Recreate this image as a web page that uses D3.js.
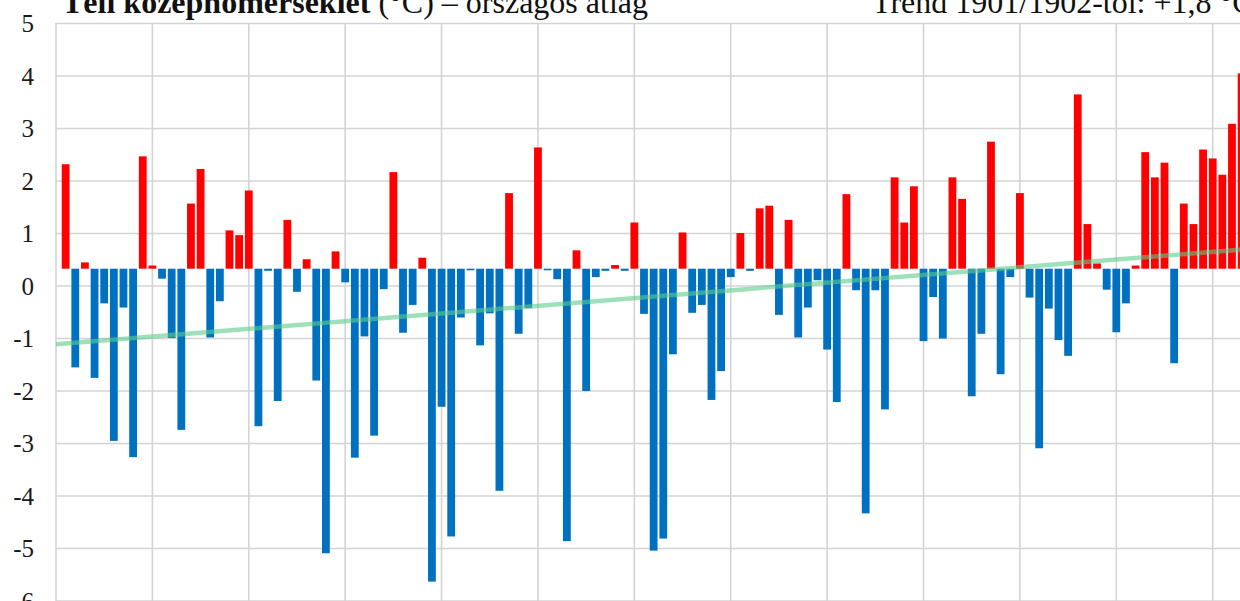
<!DOCTYPE html>
<html>
<head>
<meta charset="utf-8">
<script src="https://cdn.jsdelivr.net/npm/d3@7"></script>
<style>
html,body{margin:0;padding:0;background:#fff;overflow:hidden;}
svg{display:block;}
.ylab{font-family:'Liberation Serif','Times New Roman',serif !important;font-size:25px !important;}
</style>
</head>
<body>
<svg id="chart" width="1240" height="601"></svg>
<script>
// ---- data ----
const firstSeasonYear = 1901;           // 1901/1902
const baseline = 0.32;                  // bars grow from this value
const values = [
  2.31, -1.56, 0.44, -1.76, -0.34, -2.96, -0.42, -3.27, 2.46, 0.38,
  0.13, -1.00, -2.75, 1.56, 2.22, -0.99, -0.30, 1.05, 0.96, 1.81,
  -2.68, 0.28, -2.20, 1.25, -0.12, 0.50, -1.81, -5.10, 0.65, 0.06,
  -3.28, -0.97, -2.86, -0.07, 2.16, -0.90, -0.37, 0.53, -5.64, -2.31,
  -4.78, -0.61, 0.29, -1.14, -0.53, -3.91, 1.76, -0.92, -0.43, 2.63,
  0.29, 0.12, -4.87, 0.67, -2.01, 0.16, 0.28, 0.39, 0.28, 1.20,
  -0.54, -5.05, -4.82, -1.31, 1.01, -0.52, -0.37, -2.18, -1.63, 0.16,
  1.00, 0.28, 1.47, 1.52, -0.56, 1.25, -0.99, -0.42, 0.10, -1.22,
  -2.22, 1.74, -0.09, -4.34, -0.09, -2.36, 2.06, 1.20, 1.89, -1.06,
  -0.22, -1.01, 2.06, 1.65, -2.11, -0.92, 2.74, -1.69, 0.16, 1.76,
  -0.23, -3.10, -0.44, -1.04, -1.34, 3.64, 1.17, 0.42, -0.08, -0.89,
  -0.34, 0.38, 2.54, 2.06, 2.34, -1.48, 1.56, 1.17, 2.59, 2.42,
  2.11, 3.08, 4.04
];
const seasons = values.map((_, i) => (firstSeasonYear + i) + "/" + (firstSeasonYear + i + 1));
const yTicks = [5, 4, 3, 2, 1, 0, -1, -2, -3, -4, -5, -6];
const decadeGridSeasons = ["1910/1911","1920/1921","1930/1931","1940/1941","1950/1951","1960/1961","1970/1971","1980/1981","1990/1991","2000/2001","2010/2011","2020/2021"];
const trendSeasons = [-1, 123];        // index positions (1900/1901 .. right edge)
const trendValues = [-1.12, 0.70];
const titleBold = "Téli középhőmérséklet";
const titleRest = " (°C) – országos átlag";
const trendLabel = "Trend 1901/1902-tól: +1,8 °C";

// ---- layout ----
const svg = d3.select("#chart");
const plotLeft = 56, plotTop = 23;
const x = d3.scaleLinear().domain([-1, 119]).range([plotLeft, 1212.7]);
const y = d3.scaleLinear().domain([5, -6]).range([plotTop, plotTop + 11 * 52.5]);
const plotRight = x(123);
const bw = 7.8;
const serif = "'Liberation Serif','Times New Roman',serif";

const g = svg.append("g");

// horizontal gridlines + labels
const yAxis = d3.axisLeft(y).tickValues(yTicks).tickSize(-(plotRight - plotLeft)).tickFormat(d => String(d));
const ya = g.append("g").attr("transform", `translate(${plotLeft},0)`).call(yAxis)
  .attr("font-family", serif).attr("font-size", 25);
ya.select(".domain").remove();
ya.selectAll(".tick line").attr("stroke", "#d4d4d4").attr("stroke-width", 1.6);
ya.selectAll(".tick text")
  .attr("class", "ylab")
  .attr("x", -22)
  .attr("dy", "0.34em")
  .attr("fill", "#1a1a1a");

// vertical gridlines (decades)
const gridIdx = decadeGridSeasons.map(s => seasons.indexOf(s));
g.append("g").selectAll("line").data(gridIdx).join("line")
  .attr("x1", d => x(d)).attr("x2", d => x(d))
  .attr("y1", y(5)).attr("y2", 601)
  .attr("stroke", "#d4d4d4").attr("stroke-width", 1.6);
// left border
g.append("line").attr("x1", plotLeft).attr("x2", plotLeft).attr("y1", y(5)).attr("y2", 601)
  .attr("stroke", "#d4d4d4").attr("stroke-width", 1.6);

// bars
g.append("g").selectAll("rect").data(values).join("rect")
  .attr("x", (d, i) => x(i) - bw / 2)
  .attr("width", bw)
  .attr("y", d => y(Math.max(d, baseline)))
  .attr("height", d => Math.max(1.2, Math.abs(y(d) - y(baseline))))
  .attr("fill", d => d > baseline ? "#ff0000" : "#0070c0");

// trend line
const line = d3.line().x(d => x(d[0])).y(d => y(d[1]));
g.append("path")
  .datum(trendSeasons.map((s, i) => [s, trendValues[i]]))
  .attr("d", line)
  .attr("fill", "none")
  .attr("stroke", "#5ccc8c")
  .attr("stroke-opacity", 0.6)
  .attr("stroke-width", 4.5);

// titles
const t = svg.append("text").attr("x", 62).attr("y", 13)
  .attr("font-family", serif)
  .attr("font-size", 32).attr("fill", "#111");
t.append("tspan").attr("font-weight", "bold").text(titleBold);
t.append("tspan").text(titleRest);
svg.append("text").attr("x", 872).attr("y", 13)
  .attr("font-family", serif)
  .attr("font-size", 32).attr("fill", "#111")
  .text(trendLabel);
</script>
</body>
</html>
